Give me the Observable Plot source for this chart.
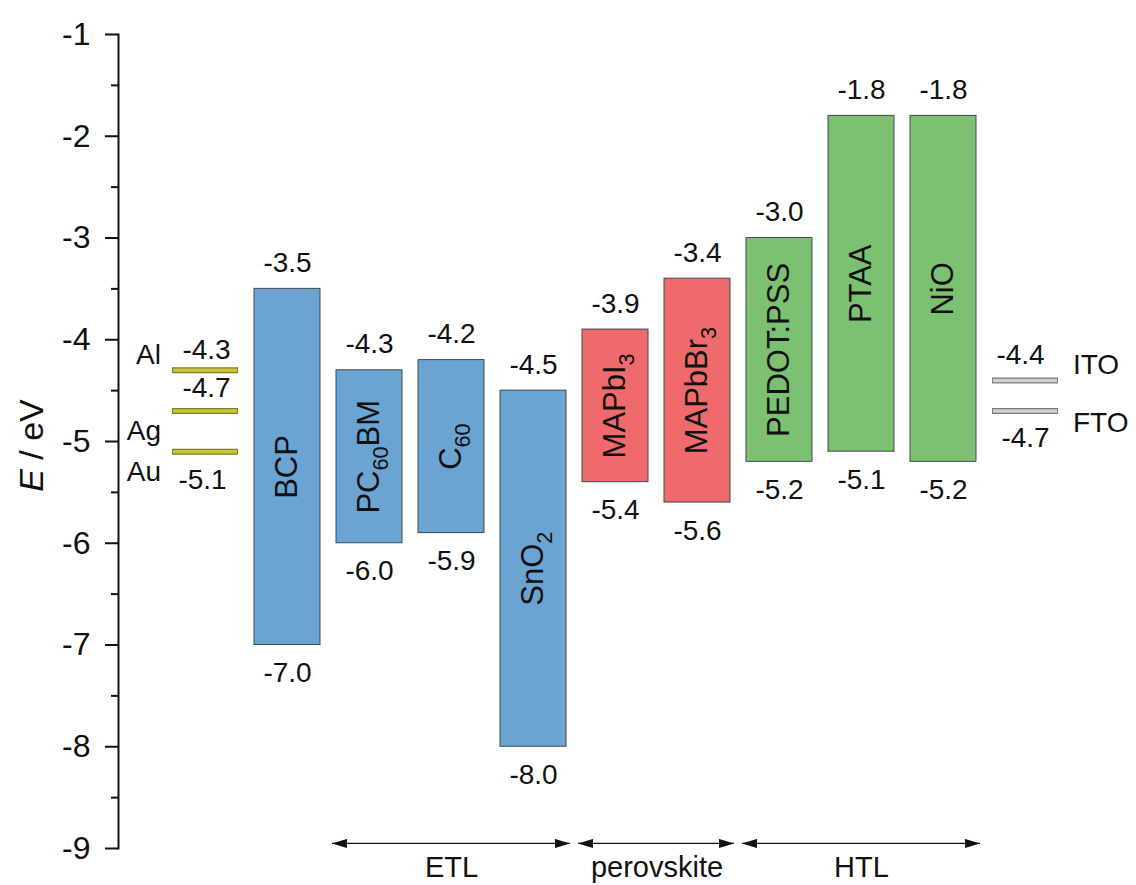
<!DOCTYPE html>
<html>
<head>
<meta charset="utf-8">
<script src="https://cdn.jsdelivr.net/npm/d3@7"></script>
<script src="https://cdn.jsdelivr.net/npm/@observablehq/plot@0.6"></script>
<style>
  html, body { margin: 0; padding: 0; background: #ffffff; }
</style>
</head>
<body>
<div id="chart"></div>
<script>
// Energy levels (eV vs. vacuum) of charge-transport layers, perovskite absorbers and electrodes.
// Subscripts are written as _{..}, italics as *..*.
const layers     = ["BCP", "PC_{60}BM", "C_{60}", "SnO_{2}", "MAPbI_{3}", "MAPbBr_{3}", "PEDOT:PSS", "PTAA", "NiO"];
const lumo       = [-3.5, -4.3, -4.2, -4.5, -3.9, -3.4, -3.0, -1.8, -1.8];
const homo       = [-7.0, -6.0, -5.9, -8.0, -5.4, -5.6, -5.2, -5.1, -5.2];
const layerKind  = ["ETL", "ETL", "ETL", "ETL", "perovskite", "perovskite", "HTL", "HTL", "HTL"];

const metals     = ["Al", "Ag", "Au"];
const metalLevel = [-4.3, -4.7, -5.1];
const tcos       = ["ITO", "FTO"];
const tcoLevel   = [-4.4, -4.7];

const groups     = ["ETL", "perovskite", "HTL"];
const groupFrom  = ["PC_{60}BM", "MAPbI_{3}", "PEDOT:PSS"];
const groupTo    = ["SnO_{2}", "MAPbBr_{3}", "NiO"];

const yMajor     = [-9, -8, -7, -6, -5, -4, -3, -2, -1];
const yMinor     = [-8.5, -7.5, -6.5, -5.5, -4.5, -3.5, -2.5, -1.5];

// Tables built from the arrays above
const rows = layers.map((name, i) => ({name, lumo: lumo[i], homo: homo[i], kind: layerKind[i]}));
const metalRows = metals.map((name, i) => ({slot: "cathode", name, level: metalLevel[i]}));
const tcoRows = tcos.map((name, i) => ({slot: "anode", name, level: tcoLevel[i]}));
const groupRows = groups.map((name, i) => ({name, from: groupFrom[i], to: groupTo[i]}));

const xDomain = ["cathode", ...layers, "anode"];
const W = 1136, H = 885;
const M = {left: 118, right: 24, top: 34, bottom: 37};
const xOptions = {type: "band", domain: xDomain, paddingInner: 0.19, paddingOuter: 0.584};
const xScale = Plot.scale({x: {...xOptions, range: [M.left, W - M.right]}});
const halfStep = xScale.step / 2;

const font = "'Liberation Sans', Arial, Helvetica, sans-serif";
const ink = "#111111";
const fmt = v => v.toFixed(1);
const arrowY = -8.95;
const valueSize = 28;

// Group captions sit under the middle of each arrow
function groupCaption(g) {
  const i0 = xDomain.indexOf(g.from), i1 = xDomain.indexOf(g.to);
  const mid = (i0 + i1) / 2;
  const even = Number.isInteger(mid);
  return Plot.text([g], {
    x: () => xDomain[Math.floor(mid)], y: () => arrowY, text: "name",
    dx: even ? 0 : halfStep, dy: 24, fontSize: 29, fill: ink
  });
}

const chart = Plot.plot({
  width: W, height: H,
  marginLeft: M.left, marginRight: M.right, marginTop: M.top, marginBottom: M.bottom,
  style: {fontFamily: font, background: "#ffffff", color: ink},
  x: {...xOptions, axis: null},
  y: {domain: [-9, -1], axis: null},
  color: {domain: groups, range: ["#6ba4d2", "#ef6a6a", "#7cc071"]},
  marks: [
    // energy axis
    Plot.frame({anchor: "left", stroke: ink, strokeWidth: 2}),
    Plot.axisY(yMajor, {anchor: "left", tickSize: 13, tickPadding: 15, fontSize: 32, strokeWidth: 2,
                        tickFormat: d => String(d), label: null, fill: ink}),
    Plot.axisY(yMinor, {anchor: "left", tickSize: 7, strokeWidth: 2, tickFormat: () => "", label: null}),
    Plot.text(["*E* / eV"], {frameAnchor: "left", textAnchor: "middle", dx: -86, dy: 4, rotate: -90, fontSize: 34, fill: ink}),

    // band boxes
    Plot.barY(rows, {x: "name", y1: "homo", y2: "lumo", fill: "kind", stroke: "#3e4a50", strokeWidth: 1}),
    Plot.text(rows, {x: "name", y: d => (d.lumo + d.homo) / 2, text: "name", rotate: -90, fontSize: 31, fill: ink}),
    Plot.text(rows, {x: "name", y: "lumo", text: d => fmt(d.lumo), dy: -26, fontSize: valueSize, fill: ink}),
    Plot.text(rows, {x: "name", y: "homo", text: d => fmt(d.homo), dy: 28, fontSize: valueSize, fill: ink}),

    // metal work functions
    Plot.tickY(metalRows, {x: "slot", y: "level", stroke: "#7f7f1c", strokeWidth: 6}),
    Plot.tickY(metalRows, {x: "slot", y: "level", stroke: "#c6c43a", strokeWidth: 3.5, insetLeft: 1, insetRight: 1}),
    Plot.text(metalRows, {filter: (d, i) => i === 0, x: "slot", y: "level", text: d => fmt(d.level), dx: 1, dy: -20, fontSize: valueSize, fill: ink}),
    Plot.text(metalRows, {filter: (d, i) => i === 1, x: "slot", y: "level", text: d => fmt(d.level), dx: 1, dy: -23, fontSize: valueSize, fill: ink}),
    Plot.text(metalRows, {filter: (d, i) => i === 2, x: "slot", y: "level", text: d => fmt(d.level), dx: -3, dy: 28, fontSize: valueSize, fill: ink}),
    Plot.text(metalRows, {filter: (d, i) => i === 0, x: "slot", y: "level", text: "name", textAnchor: "end", dx: -halfStep - 3, dy: -15, fontSize: valueSize, fill: ink}),
    Plot.text(metalRows, {filter: (d, i) => i > 0, x: "slot", y: "level", text: "name", textAnchor: "end", dx: -halfStep - 3, dy: 20, fontSize: valueSize, fill: ink}),

    // transparent conducting oxides
    Plot.tickY(tcoRows, {x: "slot", y: "level", stroke: "#7a7a7a", strokeWidth: 6}),
    Plot.tickY(tcoRows, {x: "slot", y: "level", stroke: "#d0d0d0", strokeWidth: 3.5, insetLeft: 1, insetRight: 1}),
    Plot.text(tcoRows, {filter: (d, i) => i === 0, x: "slot", y: "level", text: d => fmt(d.level), dx: -5, dy: -25, fontSize: valueSize, fill: ink}),
    Plot.text(tcoRows, {filter: (d, i) => i === 1, x: "slot", y: "level", text: d => fmt(d.level), dy: 27, fontSize: valueSize, fill: ink}),
    Plot.text(tcoRows, {filter: (d, i) => i === 0, x: "slot", y: "level", text: "name", textAnchor: "start", dx: halfStep + 6, dy: -15, fontSize: valueSize, fill: ink}),
    Plot.text(tcoRows, {filter: (d, i) => i === 1, x: "slot", y: "level", text: "name", textAnchor: "start", dx: halfStep + 6, dy: 12, fontSize: valueSize, fill: ink}),

    // layer groups: double-headed arrows with captions
    Plot.ruleY(groupRows, {x1: "from", x2: "to", y: () => arrowY, stroke: ink, strokeWidth: 1.3,
                           insetLeft: -4, insetRight: -4}),
    ...groupRows.map(groupCaption)
  ]
});

document.getElementById("chart").appendChild(chart);

// Filled arrowheads on both ends of the group rules
const svg = d3.select(chart);
svg.append("defs").append("marker")
  .attr("id", "head")
  .attr("viewBox", "0 0 15 9")
  .attr("refX", 15).attr("refY", 4.5)
  .attr("markerWidth", 15).attr("markerHeight", 9)
  .attr("markerUnits", "userSpaceOnUse")
  .attr("orient", "auto-start-reverse")
  .append("path").attr("d", "M0,0L15,4.5L0,9Z").attr("fill", ink);
svg.selectAll('g[aria-label="rule"] line')
  .attr("marker-start", "url(#head)")
  .attr("marker-end", "url(#head)");

// Subscripts and italics inside labels
const NS = "http://www.w3.org/2000/svg";
svg.selectAll("text").each(function () {
  const s = this.textContent;
  if (!/_\{|\*/.test(s)) return;
  const fs = parseFloat(getComputedStyle(this).fontSize) || 22;
  const shift = fs * 0.28;
  this.textContent = "";
  const re = /_\{([^}]*)\}|\*([^*]*)\*|([^_*]+)/g;
  let m, lowered = false;
  while ((m = re.exec(s))) {
    const t = document.createElementNS(NS, "tspan");
    if (m[1] !== undefined) {
      t.textContent = m[1];
      t.setAttribute("font-size", (fs * 0.7) + "px");
      if (!lowered) { t.setAttribute("dy", shift); lowered = true; }
    } else {
      t.textContent = m[2] !== undefined ? m[2] : m[3];
      if (m[2] !== undefined) t.setAttribute("font-style", "italic");
      if (lowered) { t.setAttribute("dy", -shift); lowered = false; }
    }
    this.appendChild(t);
  }
});
</script>
</body>
</html>
